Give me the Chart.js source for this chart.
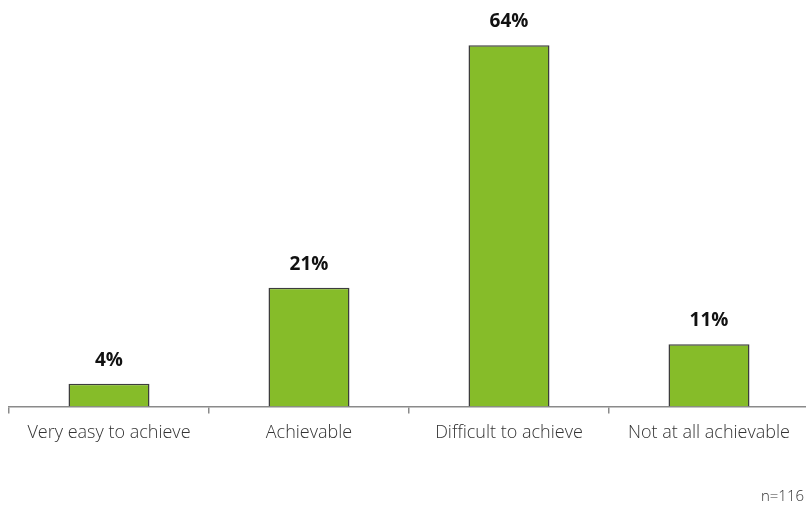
<!DOCTYPE html>
<html>
<head>
<meta charset="utf-8">
<script src="https://cdn.jsdelivr.net/npm/chart.js@4/dist/chart.umd.min.js"></script>
<style>
  html, body { margin: 0; padding: 0; background: #fff; overflow: hidden; }
  #wrap { position: relative; width: 812px; height: 509px; }
</style>
</head>
<body>
<div id="wrap"><canvas id="myChart"></canvas></div>
<script>
const categories = ['Very easy to achieve', 'Achievable', 'Difficult to achieve', 'Not at all achievable'];
const values = [4, 21, 64, 11];
const valueLabels = ['4%', '21%', '64%', '11%'];
const note = 'n=116';

// value labels over bars + sample size note
const barLabels = {
  id: 'barLabels',
  afterDatasetsDraw(chart) {
    const ctx = chart.ctx;
    const meta = chart.getDatasetMeta(0);
    ctx.save();
    ctx.font = 'bold 19px "Open Sans"';
    ctx.fillStyle = '#111';
    ctx.textAlign = 'center';
    ctx.textBaseline = 'alphabetic';
    meta.data.forEach((bar, i) => {
      ctx.fillText(valueLabels[i], bar.x, bar.y - 18);
    });
    ctx.font = '300 15px "Open Sans"';
    ctx.fillStyle = '#333';
    ctx.textAlign = 'right';
    ctx.fillText(note, 804, 501);
    ctx.restore();
  }
};

let ctx = document.getElementById('myChart').getContext('2d');

let myChart = new Chart(ctx, {
  type: 'bar',
  data: {
    labels: categories,
    datasets: [{
      data: values,
      backgroundColor: '#86bc29',
      borderColor: '#3d3d3d',
      borderWidth: 1.5,
      categoryPercentage: 1,
      barPercentage: 0.405
    }]
  },
  options: {
    responsive: true,
    maintainAspectRatio: false,
    animation: false,
    layout: { padding: { left: 9, right: 3, top: 0, bottom: 56 } },
    plugins: { legend: { display: false }, tooltip: { enabled: false } },
    scales: {
      x: {
        grid: { drawOnChartArea: false, drawTicks: true, tickLength: 7, color: '#8a8a8a', lineWidth: 1.5 },
        border: { color: '#8a8a8a', width: 1.5 },
        ticks: { color: '#333', font: { family: 'Open Sans', size: 18, weight: 300 }, padding: 9, maxRotation: 0 }
      },
      y: { display: false, min: 0, max: 72 }
    }
  },
  plugins: [barLabels]
});
</script>
</body>
</html>
